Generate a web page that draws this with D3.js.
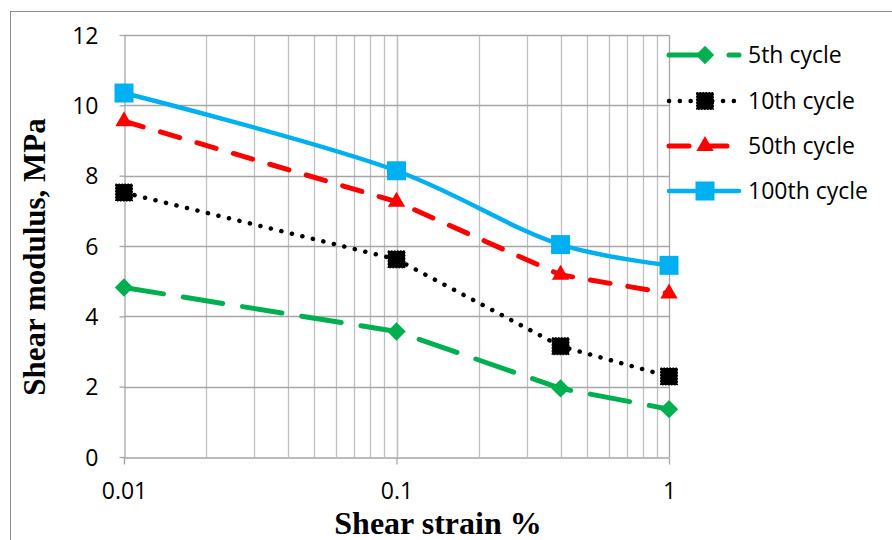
<!DOCTYPE html>
<html>
<head>
<meta charset="utf-8">
<script src="https://cdn.jsdelivr.net/npm/d3@7"></script>
<style>
  html, body { margin: 0; padding: 0; background: #fff; }
  svg { display: block; }
</style>
</head>
<body>
<svg id="chart" width="892" height="540"></svg>
<script>
// ---- data ----
const strains = [0.01, 0.1, 0.4, 1];
const seriesNames = ["5th cycle", "10th cycle", "50th cycle", "100th cycle"];
const cycle5 = [4.82, 3.57, 1.95, 1.36];
const cycle10 = [7.52, 5.62, 3.15, 2.29];
const cycle50 = [9.55, 7.26, 5.18, 4.65];
const cycle100 = [10.35, 8.14, 6.04, 5.45];
const yTicks = [0, 2, 4, 6, 8, 10, 12];
const xTickLabels = ["0.01", "0.1", "1"];
const xTitle = "Shear strain %";
const yTitle = "Shear modulus, MPa";

// ---- layout ----
const svg = d3.select("#chart");
const L = 124, R = 669, T = 35, B = 457;
const x = d3.scaleLog().domain([0.01, 1]).range([L, R]);
const y = d3.scaleLinear().domain([0, 12]).range([B, T]);
const tickFont = "Open Sans, sans-serif";
const tickSize = 23;

// outer frame
svg.append("rect").attr("x", 10.5).attr("y", 11.5).attr("width", 900).attr("height", 600)
  .attr("fill", "none").attr("stroke", "#8c8c8c").attr("stroke-width", 1);

// grid: vertical log lines
const minor = [];
[0.01, 0.1].forEach(d => { for (let k = 1; k <= 10; k++) minor.push(d * k); });
const g = svg.append("g");
g.selectAll("line.vg").data(minor.filter(v => v > 0.0100001 && v < 0.99999)).enter().append("line")
  .attr("x1", d => Math.round(x(d)) + 0.5).attr("x2", d => Math.round(x(d)) + 0.5)
  .attr("y1", T).attr("y2", B)
  .attr("stroke", "#bfbfbf").attr("stroke-width", 1.3);
g.selectAll("line.hg").data(yTicks.filter(v => v > 0)).enter().append("line")
  .attr("x1", L).attr("x2", R)
  .attr("y1", d => Math.round(y(d)) + 0.5).attr("y2", d => Math.round(y(d)) + 0.5)
  .attr("stroke", "#a6a6a6").attr("stroke-width", 1.3);
// right border
g.append("line").attr("x1", R + 0.5).attr("x2", R + 0.5).attr("y1", T).attr("y2", B)
  .attr("stroke", "#a6a6a6").attr("stroke-width", 1.3);

// axes
const xAxis = d3.axisBottom(x).tickValues([0.01, 0.1, 1]).tickFormat((d, i) => xTickLabels[i])
  .tickSize(7).tickSizeOuter(0);
const gx = svg.append("g").attr("transform", `translate(0,${B + 0.5})`).call(xAxis);
gx.select(".domain").attr("stroke", "#a6a6a6").attr("stroke-width", 1.3);
gx.selectAll(".tick line").attr("stroke", "#a6a6a6").attr("stroke-width", 1.3);
gx.selectAll(".tick text").attr("font-family", tickFont).attr("font-size", tickSize)
  .attr("fill", "#000").attr("dy", 0).attr("y", 41);

const yAxis = d3.axisLeft(y).tickValues(yTicks).tickSize(5).tickSizeOuter(0).tickPadding(21);
const gy = svg.append("g").attr("transform", `translate(${L + 0.5},0)`).call(yAxis);
gy.select(".domain").attr("stroke", "#a6a6a6").attr("stroke-width", 1.3);
gy.selectAll(".tick line").attr("stroke", "#a6a6a6").attr("stroke-width", 1.3);
gy.selectAll(".tick text").attr("font-family", tickFont).attr("font-size", tickSize)
  .attr("fill", "#000").attr("dy", "0.35em");
// y axis extends to x tick depth
svg.append("line").attr("x1", L + 0.5).attr("x2", L + 0.5).attr("y1", B).attr("y2", B + 7)
  .attr("stroke", "#a6a6a6").attr("stroke-width", 1.3);

// titles
svg.append("text").attr("x", 438).attr("y", 534).attr("text-anchor", "middle")
  .attr("font-family", "Liberation Serif, Times New Roman, serif").attr("font-weight", "bold")
  .attr("font-size", 32).attr("fill", "#000").text(xTitle);
svg.append("text").attr("transform", "translate(45,257) rotate(-90)").attr("text-anchor", "middle")
  .attr("font-family", "Liberation Serif, Times New Roman, serif").attr("font-weight", "bold")
  .attr("font-size", 31).attr("fill", "#000").text(yTitle);

// series styles
const styles = [
  { values: cycle5, color: "#00B050", dash: "40,20", width: 5, cap: "round", marker: "diamond", curve: d3.curveLinear },
  { values: cycle10, color: "#000000", dash: "0.1,10.7", width: 4.5, cap: "round", marker: "squareDot", curve: d3.curveLinear },
  { values: cycle50, color: "#FF0000", dash: "20,18", width: 5, cap: "round", marker: "triangle", curve: d3.curveLinear },
  { values: cycle100, color: "#00B0F0", dash: null, width: 4.5, cap: "round", marker: "square", curve: d3.curveCatmullRom.alpha(0.5) }
];

function drawMarker(sel, type, color, cx, cy) {
  if (type === "diamond") {
    sel.append("path").attr("d", d3.symbol(d3.symbolSquare, 13 * 13)())
      .attr("transform", `translate(${cx},${cy}) rotate(45)`).attr("fill", color);
  } else if (type === "squareDot") {
    sel.append("path").attr("d", d3.symbol(d3.symbolSquare, 17 * 17)())
      .attr("transform", `translate(${cx},${cy})`).attr("fill", color)
      .attr("stroke", "#000").attr("stroke-width", 1).attr("stroke-dasharray", "1.5,1.5");
  } else if (type === "triangle") {
    sel.append("path").attr("d", d3.symbol(d3.symbolTriangle, 130)())
      .attr("transform", `translate(${cx},${cy})`).attr("fill", color);
  } else if (type === "square") {
    sel.append("path").attr("d", d3.symbol(d3.symbolSquare, 19 * 19)())
      .attr("transform", `translate(${cx},${cy})`).attr("fill", color);
  }
}

const line = d3.line().x(d => x(d[0])).y(d => y(d[1]));
styles.forEach(s => {
  const pts = strains.map((v, i) => [v, s.values[i]]);
  const sg = svg.append("g");
  sg.append("path").attr("d", line.curve(s.curve)(pts)).attr("fill", "none")
    .attr("stroke", s.color).attr("stroke-width", s.width).attr("stroke-linecap", s.cap)
    .attr("stroke-linejoin", "round").attr("stroke-dasharray", s.dash);
  pts.forEach(p => drawMarker(sg, s.marker, s.color, x(p[0]), y(p[1])));
});

// legend
const legY = [55, 101, 146, 191];
styles.forEach((s, i) => {
  const lg = svg.append("g");
  lg.append("line").attr("x1", 669).attr("x2", 739).attr("y1", legY[i]).attr("y2", legY[i])
    .attr("stroke", s.color).attr("stroke-width", s.width).attr("stroke-linecap", s.cap)
    .attr("stroke-dasharray", s.dash);
  drawMarker(lg, s.marker, s.color, 705, legY[i]);
  lg.append("text").attr("x", 748).attr("y", legY[i]).attr("dy", "0.35em")
    .attr("font-family", tickFont).attr("font-size", tickSize).attr("fill", "#000")
    .text(seriesNames[i]);
});
</script>
</body>
</html>
